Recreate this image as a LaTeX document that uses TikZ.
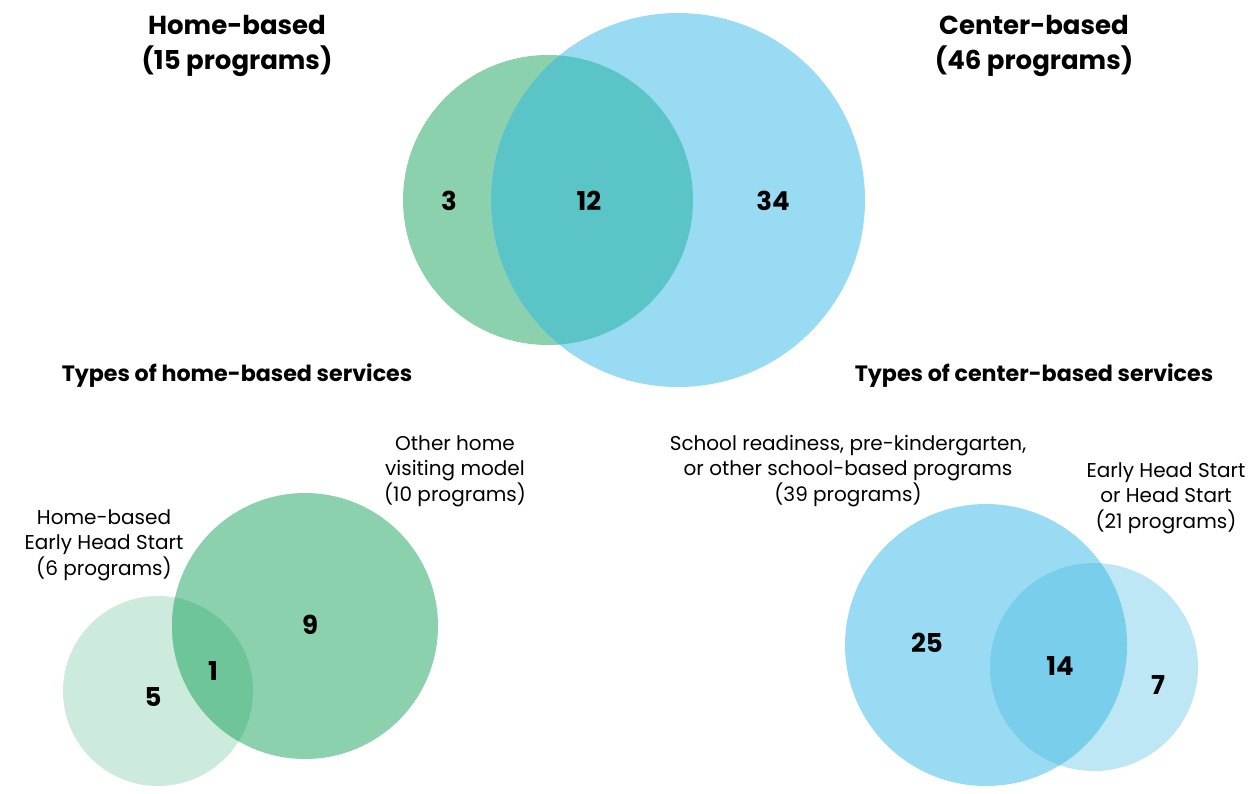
\documentclass[tikz,border=0pt]{standalone}
\usepackage{fontspec}
\setmainfont{Poppins}
\definecolor{grn}{HTML}{8CD1AE}
\definecolor{blu}{HTML}{99DBF2}
\definecolor{tealov}{HTML}{5BC4C6}
\definecolor{lgrn}{HTML}{CDEBDC}
\definecolor{grnov}{HTML}{6FC59A}
\definecolor{lblu}{HTML}{BEE7F5}
\definecolor{bluov}{HTML}{79CEEB}
\tikzset{
  venn/.style={circle, inner sep=0pt, draw=none},
  title/.style={font=\fontsize{26}{35}\selectfont\bfseries, align=center, inner sep=0pt},
  subtitle/.style={font=\fontsize{22.2}{26}\selectfont\bfseries, inner sep=0pt},
  lbl/.style={font=\fontsize{20}{25.5}\selectfont, align=center, inner sep=0pt},
  num/.style={font=\fontsize{26}{30}\selectfont\bfseries, inner sep=0pt}
}
\begin{document}
\begin{tikzpicture}[x=1pt,y=-1pt]
\useasboundingbox (0,0) rectangle (1256,793);
% top venn
\node[venn, fill=grn, minimum size=290pt] (hb) at (548,200) {};
\node[venn, fill=blu, minimum size=374pt] (cb) at (678,200) {};
\begin{scope}
  \clip (548,200) circle (145pt);
  \fill[tealov] (678,200) circle (187pt);
\end{scope}
% bottom-left venn
\node[venn, fill=lgrn, minimum size=190pt] (ehs) at (158,691) {};
\node[venn, fill=grn, minimum size=266pt] (oth) at (305,626) {};
\begin{scope}
  \clip (158,691) circle (95pt);
  \fill[grnov] (305,626) circle (133pt);
\end{scope}
% bottom-right venn
\node[venn, fill=lblu, minimum size=208pt] (hs) at (1094,667) {};
\node[venn, fill=blu, minimum size=282pt] (sch) at (986,645) {};
\begin{scope}
  \clip (986,645) circle (141pt);
  \fill[bluov] (1094,667) circle (104pt);
\end{scope}
% titles
\node[title] (t1) at (237,46) {Home-based\\(15 programs)};
\node[title] (t2) at (1034,46) {Center-based\\(46 programs)};
\node[subtitle] (s1) at (237,376) {Types of home-based services};
\node[subtitle] (s2) at (1034,376) {Types of center-based services};
% labels
\node[lbl] (l1) at (455,471) {Other home\\visiting model\\(10 programs)};
\node[lbl] (l2) at (104,545) {Home-based\\Early Head Start\\(6 programs)};
\node[lbl] (l3) at (848,471) {School readiness, pre-kindergarten,\\or other school-based programs\\(39 programs)};
\node[lbl] (l4) at (1166,498) {Early Head Start\\or Head Start\\(21 programs)};
% numbers
\node[num] (n3) at (449,201) {3};
\node[num] (n12) at (589,201) {12};
\node[num] (n34) at (773,201) {34};
\node[num] (n5) at (153,697) {5};
\node[num] (n1) at (213,671) {1};
\node[num] (n9) at (310,625) {9};
\node[num] (n25) at (927,643) {25};
\node[num] (n14) at (1060,666) {14};
\node[num] (n7) at (1158,685) {7};
\end{tikzpicture}
\end{document}
